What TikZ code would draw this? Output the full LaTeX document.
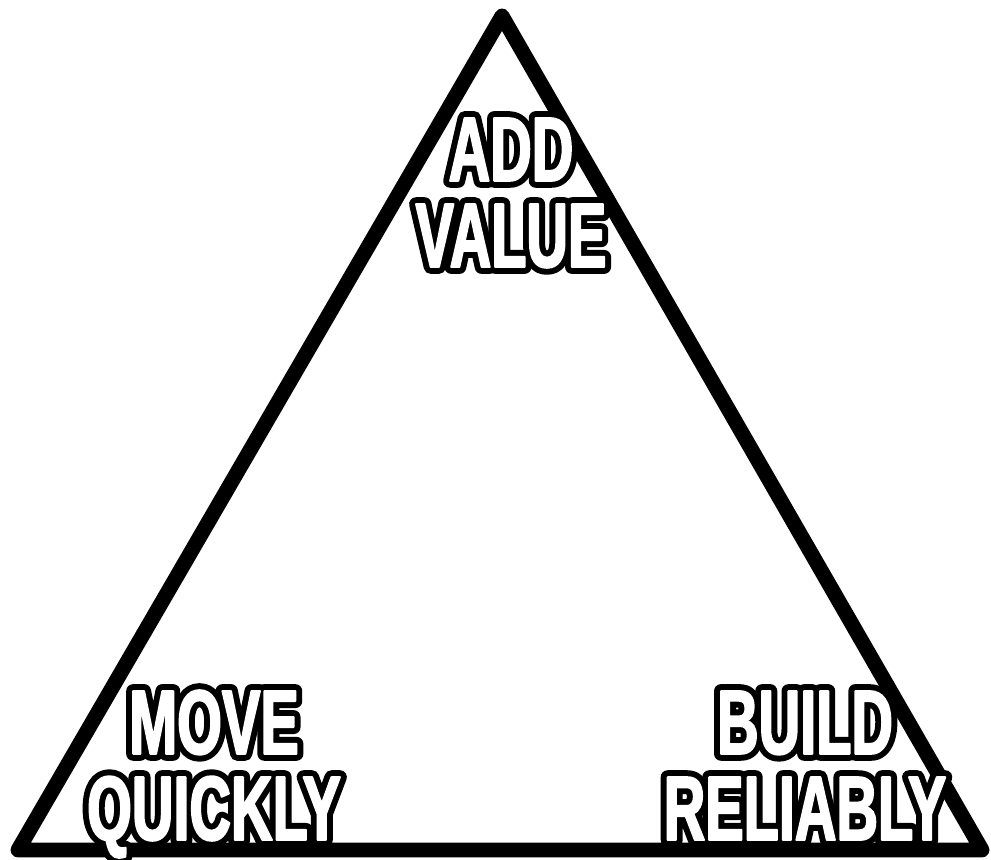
\documentclass[tikz,border=0pt]{standalone}
\usepackage{fontspec}
\newfontfamily\memefont{Liberation Sans}[FakeStretch=0.63, FakeBold=2]
\newfontfamily\memeedge{Liberation Sans}[FakeStretch=0.63, FakeBold=15]
\usepackage{tikz}
\usetikzlibrary{positioning, calc}

\begin{document}
\begin{tikzpicture}[
    edge/.style={draw=black, line width=8.5pt, line join=round, line cap=round},
    label/.style={anchor=base, align=center, text=white, inner sep=0pt, line join=round,
        font=\memefont\bfseries\fontsize{52}{49}\selectfont},
    rim/.style={label, text=black,
        font=\memeedge\bfseries\fontsize{52}{49}\selectfont}
]
    \useasboundingbox (0,0) rectangle (19.82,17.2);

    % Corners
    \coordinate (apex) at (10.04,16.88);
    \coordinate (left) at (0.36,0.2);
    \coordinate (right) at (19.64,0.2);

    % Triangle
    \draw[edge] (apex) -- (left) -- (right) -- cycle;

    % Label outlines
    \node[rim] (value rim) at (10.22,11.86) {ADD\\VALUE};
    \node[rim] (quick rim) at (4.28,0.40) {MOVE\\QUICKLY};
    \node[rim] (reliable rim) at (16.1,0.40) {BUILD\\RELIABLY};

    % Labels
    \node[label] (value) at (value rim.base) {ADD\\VALUE};
    \node[label] (quick) at (quick rim.base) {MOVE\\QUICKLY};
    \node[label] (reliable) at (reliable rim.base) {BUILD\\RELIABLY};

\end{tikzpicture}
\end{document}
